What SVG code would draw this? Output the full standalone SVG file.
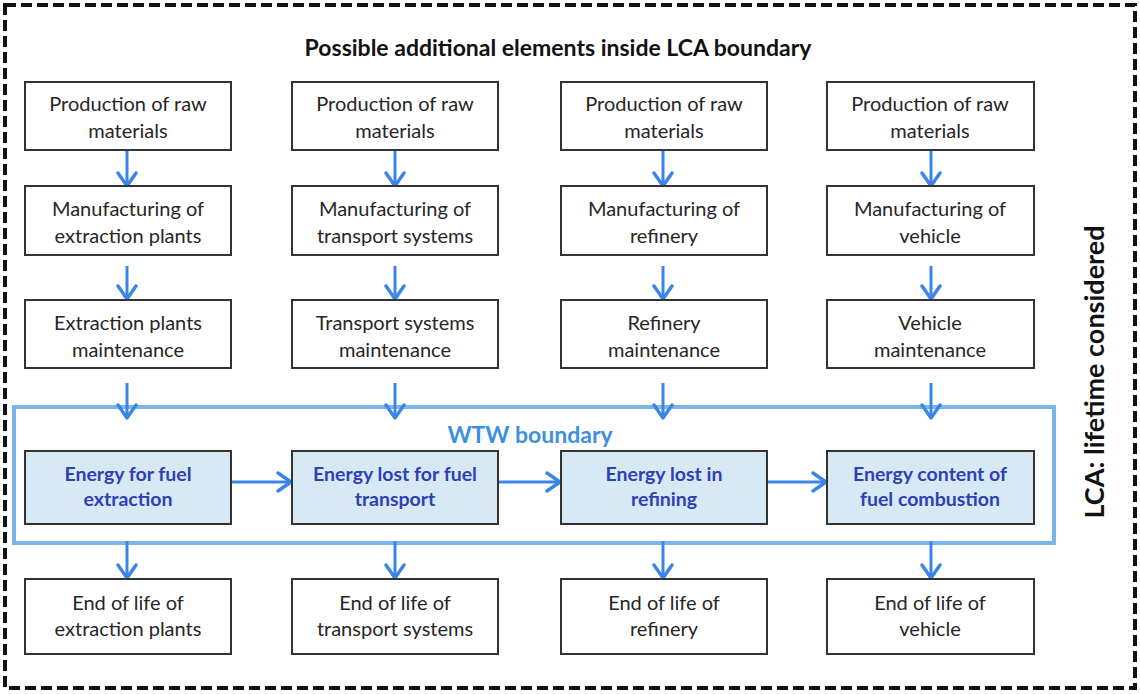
<svg xmlns="http://www.w3.org/2000/svg" width="1140" height="694" viewBox="0 0 1140 694">
<defs>
<marker id="ah" viewBox="0 0 18 22" refX="15" refY="11" markerWidth="18" markerHeight="22" markerUnits="userSpaceOnUse" orient="auto">
<path d="M2,2 L15,11 L2,20" fill="none" stroke="#3b84e8" stroke-width="3.4" stroke-linecap="round" stroke-linejoin="round"/>
</marker>
<style>
.box{fill:#ffffff;stroke:#333333;stroke-width:2}
.wbox{fill:#d7e9f4;stroke:#333333;stroke-width:2}
.t{font-family:Lato,"Open Sans","Liberation Sans",sans-serif;font-size:20px;fill:#262626;text-anchor:middle}
.wt{font-family:Lato,"Open Sans","Liberation Sans",sans-serif;font-size:19.5px;font-weight:bold;fill:#2f3fb8;text-anchor:middle}
.arr{stroke:#3b84e8;stroke-width:3;fill:none;marker-end:url(#ah)}
</style>
</defs>
<rect x="0" y="0" width="1140" height="694" fill="#ffffff"/>
<rect id="lca-boundary" x="5" y="5" width="1130" height="683" fill="none" stroke="#111111" stroke-width="4" stroke-dasharray="11 5"/>
<text id="title" x="558" y="56" font-family="Lato,'Open Sans','Liberation Sans',sans-serif" font-size="23" font-weight="bold" fill="#111111" text-anchor="middle">Possible additional elements inside LCA boundary</text>
<text id="lca-label" transform="translate(1104,372) rotate(-90)" font-family="Lato,'Open Sans','Liberation Sans',sans-serif" font-size="27" font-weight="bold" fill="#111111" text-anchor="middle">LCA: lifetime considered</text>
<g id="wtw-boundary">
<rect x="14" y="407" width="1040" height="136" fill="none" stroke="#7ab6ea" stroke-width="4"/>
<text x="530" y="443" font-family="Lato,'Open Sans','Liberation Sans',sans-serif" font-size="23" font-weight="bold" fill="#3d8fe3" text-anchor="middle">WTW boundary</text>
</g>
<g id="connectors">
<line class="arr" x1="127" y1="151" x2="127" y2="186"/>
<line class="arr" x1="395" y1="151" x2="395" y2="186"/>
<line class="arr" x1="663" y1="151" x2="663" y2="186"/>
<line class="arr" x1="931" y1="151" x2="931" y2="186"/>
<line class="arr" x1="127" y1="266" x2="127" y2="299"/>
<line class="arr" x1="395" y1="266" x2="395" y2="299"/>
<line class="arr" x1="663" y1="266" x2="663" y2="299"/>
<line class="arr" x1="931" y1="266" x2="931" y2="299"/>
<line class="arr" x1="127" y1="383" x2="127" y2="418"/>
<line class="arr" x1="395" y1="383" x2="395" y2="418"/>
<line class="arr" x1="663" y1="383" x2="663" y2="418"/>
<line class="arr" x1="931" y1="383" x2="931" y2="418"/>
<line class="arr" x1="127" y1="541" x2="127" y2="578"/>
<line class="arr" x1="395" y1="541" x2="395" y2="578"/>
<line class="arr" x1="663" y1="541" x2="663" y2="578"/>
<line class="arr" x1="931" y1="541" x2="931" y2="578"/>
<line class="arr" x1="232" y1="482" x2="291" y2="482"/>
<line class="arr" x1="499" y1="482" x2="560" y2="482"/>
<line class="arr" x1="768" y1="482" x2="826" y2="482"/>
</g>
<g id="raw1"><rect class="box" x="25" y="82" width="206" height="68"/><text class="t" x="128" y="111">Production of raw</text><text class="t" x="128" y="138">materials</text></g>
<g id="raw2"><rect class="box" x="292" y="82" width="206" height="68"/><text class="t" x="395" y="111">Production of raw</text><text class="t" x="395" y="138">materials</text></g>
<g id="raw3"><rect class="box" x="561" y="82" width="206" height="68"/><text class="t" x="664" y="111">Production of raw</text><text class="t" x="664" y="138">materials</text></g>
<g id="raw4"><rect class="box" x="827" y="82" width="207" height="68"/><text class="t" x="930" y="111">Production of raw</text><text class="t" x="930" y="138">materials</text></g>
<g id="manu1"><rect class="box" x="25" y="186" width="206" height="69"/><text class="t" x="128" y="216">Manufacturing of</text><text class="t" x="128" y="243">extraction plants</text></g>
<g id="manu2"><rect class="box" x="292" y="186" width="206" height="69"/><text class="t" x="395" y="216">Manufacturing of</text><text class="t" x="395" y="243">transport systems</text></g>
<g id="manu3"><rect class="box" x="561" y="186" width="206" height="69"/><text class="t" x="664" y="216">Manufacturing of</text><text class="t" x="664" y="243">refinery</text></g>
<g id="manu4"><rect class="box" x="827" y="186" width="207" height="69"/><text class="t" x="930" y="216">Manufacturing of</text><text class="t" x="930" y="243">vehicle</text></g>
<g id="maint1"><rect class="box" x="25" y="300" width="206" height="68"/><text class="t" x="128" y="330">Extraction plants</text><text class="t" x="128" y="357">maintenance</text></g>
<g id="maint2"><rect class="box" x="292" y="300" width="206" height="68"/><text class="t" x="395" y="330">Transport systems</text><text class="t" x="395" y="357">maintenance</text></g>
<g id="maint3"><rect class="box" x="561" y="300" width="206" height="68"/><text class="t" x="664" y="330">Refinery</text><text class="t" x="664" y="357">maintenance</text></g>
<g id="maint4"><rect class="box" x="827" y="300" width="207" height="68"/><text class="t" x="930" y="330">Vehicle</text><text class="t" x="930" y="357">maintenance</text></g>
<g id="wtw1"><rect class="wbox" x="25" y="451" width="206" height="73"/><text class="wt" x="128" y="481">Energy for fuel</text><text class="wt" x="128" y="506">extraction</text></g>
<g id="wtw2"><rect class="wbox" x="292" y="451" width="206" height="73"/><text class="wt" x="395" y="481">Energy lost for fuel</text><text class="wt" x="395" y="506">transport</text></g>
<g id="wtw3"><rect class="wbox" x="561" y="451" width="206" height="73"/><text class="wt" x="664" y="481">Energy lost in</text><text class="wt" x="664" y="506">refining</text></g>
<g id="wtw4"><rect class="wbox" x="827" y="451" width="207" height="73"/><text class="wt" x="930" y="481">Energy content of</text><text class="wt" x="930" y="506">fuel combustion</text></g>
<g id="eol1"><rect class="box" x="25" y="579" width="206" height="75"/><text class="t" x="128" y="610">End of life of</text><text class="t" x="128" y="636">extraction plants</text></g>
<g id="eol2"><rect class="box" x="292" y="579" width="206" height="75"/><text class="t" x="395" y="610">End of life of</text><text class="t" x="395" y="636">transport systems</text></g>
<g id="eol3"><rect class="box" x="561" y="579" width="206" height="75"/><text class="t" x="664" y="610">End of life of</text><text class="t" x="664" y="636">refinery</text></g>
<g id="eol4"><rect class="box" x="827" y="579" width="207" height="75"/><text class="t" x="930" y="610">End of life of</text><text class="t" x="930" y="636">vehicle</text></g>
</svg>
